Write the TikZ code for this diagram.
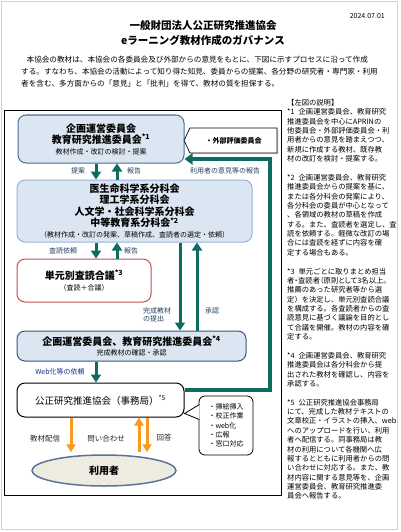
\documentclass[tikz,border=0pt]{standalone}
\usepackage{fontspec}
\setmainfont{Noto Sans CJK JP}
\usepackage{tikz}
\usetikzlibrary{arrows.meta,positioning,shapes.geometric,shapes.symbols,shadows}
\definecolor{tealx}{HTML}{0E6B60}
\definecolor{navyx}{HTML}{243F60}
\definecolor{boxbg}{HTML}{DCE6F2}
\definecolor{boxln}{HTML}{4A6C99}
\definecolor{boxlt}{HTML}{95B3D7}
\definecolor{redx}{HTML}{C0504D}
\definecolor{orangex}{HTML}{F79A1E}
\definecolor{userbg}{HTML}{EEECE1}
\definecolor{userln}{HTML}{5B7397}
\tikzset{
  ar/.style={-{Triangle[length=8pt,width=10pt]},line width=3pt,tealx},
  oar/.style={-{Triangle[length=8pt,width=9pt]},line width=3pt,orangex},
  loopar/.style={-{Triangle[length=8pt,width=11pt]},line width=3.5pt,tealx},
  box/.style={draw=boxln,line width=1pt,rounded corners=8pt,fill=boxbg,align=center,inner sep=0pt,
    font=\bfseries\fontsize{10}{11.5}\selectfont},
  wbox/.style={box,fill=white},
  lbl/.style={font=\fontsize{7}{8.5}\selectfont,navyx,inner sep=0pt},
  olbl/.style={font=\fontsize{7.5}{9}\selectfont,black!85,inner sep=0pt},
  small/.style={font=\fontsize{7}{8}\selectfont}
}
\newcommand{\subline}[1]{{\mdseries\fontsize{7}{8}\selectfont #1}}
\newcommand{\narrow}[1]{{\addfontfeature{RawFeature=+palt}#1}}

\begin{document}
\begin{tikzpicture}[x=1pt,y=-1pt]
\useasboundingbox (0,0) rectangle (400,532);
\draw[gray!35,line width=1pt] (1.5,1.5) rectangle (397.5,529.5);

% header
\node[anchor=east,small,inner sep=0pt] (date) at (385,16) {2024.07.01};
\node[align=center,font=\bfseries\fontsize{10.5}{15}\selectfont,inner sep=0pt] (title) at (203,33.5)
  {一般財団法人公正研究推進協会\\eラーニング教材作成のガバナンス};
\node[anchor=north west,align=left,font=\fontsize{7.6}{11.7}\selectfont,inner sep=0pt] (intro) at (21,56)
  {\hspace*{5.5pt}本協会の教材は、本協会の各委員会及び外部からの意見をもとに、下図に示すプロセスに沿って作成\\
   する。すなわち、本協会の活動によって知り得た知見、委員からの提案、各分野の研究者・専門家・利用\\
   者を含む、多方面からの「意見」と「批判」を得て、教材の質を担保する。};

% frame
\draw[line width=0.8pt] (4.5,110) rectangle (281,495);

% boxes
\node[box,minimum width=166pt,minimum height=48pt] (kikaku) at (101,139)
  {企画運営委員会\\教育研究推進委員会\textsuperscript{*1}\\[-1pt]\subline{教材作成・改訂の検討・提案}};
\node[box,draw=boxlt,minimum width=235pt,minimum height=62pt] (bunka) at (134.5,211)
  {医生命科学系分科会\\理工学系分科会\\人文学・社会科学系分科会\\中等教育系分科会\textsuperscript{*2}\\[-1pt]
   \subline{（教材作成・改訂の発案、草稿作成、査読者の選定・依頼）}};
\node[wbox,draw=redx,minimum width=134pt,minimum height=43pt] (sadoku) at (84,280.5)
  {単元別査読合議\textsuperscript{*3}\\[-1pt]\subline{（査読＋合議）}};
\node[box,draw=boxln!80!black,minimum width=229pt,minimum height=30pt] (shonin) at (131.5,346)
  {企画運営委員会、教育研究推進委員会\textsuperscript{*4}\\[-2pt]\subline{完成教材の確認・承認}};
\node[wbox,draw=black,font=\fontsize{9.5}{11}\selectfont,minimum width=167pt,minimum height=34pt] (jimu) at (100.5,400)
  {公正研究推進協会（事務局）\textsuperscript{*5}};
\node[ellipse,draw=userln,line width=1.5pt,fill=userbg,minimum width=144pt,minimum height=31pt,inner sep=0pt,
  font=\bfseries\fontsize{10}{12}\selectfont] (riyou) at (104,470.5) {利用者};

% external committee
\node[signal,signal to=west,signal pointer angle=130,draw,fill=white,line width=0.7pt,
  drop shadow={shadow xshift=1.2pt,shadow yshift=-1.2pt,fill=gray!60},
  minimum width=93pt,minimum height=25pt,inner sep=0pt,font=\bfseries\fontsize{7}{8}\selectfont] (gaibu) at (233.5,140.5)
  {・外部評価委員会};

% office tasks
\node[draw,line width=0.8pt,fill=white,rounded corners=6pt,minimum width=54pt,minimum height=59pt,inner sep=0pt,
  align=left,font=\fontsize{7}{9.3}\selectfont] (sagyo) at (226,425.5)
  {・挿絵挿入\\・校正作業\\・web化\\・広報\\・窓口対応};
\coordinate (tip) at ([yshift=4pt]jimu.south east);
\path[fill=white,draw=black,line width=0.8pt] ([xshift=0.8pt,yshift=21pt]sagyo.west) -- (tip) -- ([xshift=0.8pt,yshift=6pt]sagyo.west);

% arrow columns
\coordinate (xa) at (96,0);
\coordinate (xb) at (117,0);
\coordinate (xc) at (180,0);
\coordinate (xd) at (197,0);
\coordinate (xe) at (71,0);
\coordinate (xf) at (139,0);
\coordinate (xg) at (147,0);
\coordinate (loop) at (270,300);

\draw[ar] (xa |- kikaku.south) -- (xa |- bunka.north);
\draw[ar] (xb |- bunka.north) -- (xb |- kikaku.south);
\node[lbl] (teian) at (78,171) {提案};
\node[lbl] (hokoku1) at (134,171) {報告};

\draw[ar] (xa |- bunka.south) -- (xa |- sadoku.north);
\draw[ar] (xb |- sadoku.north) -- (xb |- bunka.south);
\node[lbl] (irai) at (63,251) {査読依頼};
\node[lbl] (hokoku2) at (131,251) {報告};

\draw[ar] (xc |- bunka.south) -- (xc |- shonin.north);
\draw[ar] (xd |- shonin.north) -- (xd |- bunka.south);
\node[lbl,anchor=west,align=left,font=\fontsize{7}{8.5}\selectfont] (teishutsu) at (143,315) {完成教材\\の提出};
\node[lbl] (shounin) at (212,311) {承認};

\draw[ar] (xa |- shonin.south) -- (xa |- jimu.north);
\node[lbl,navyx!70!blue] (web) at (60,372) {Web化等の依頼};

\draw[loopar] ([yshift=10pt]jimu.east) -| (loop) |- ([yshift=-20pt]kikaku.east);
\node[lbl] (iken) at (225,171) {利用者の意見等の報告};

\draw[oar,shorten >=2pt] (xe |- jimu.south) -- (xe |- riyou.north);
\draw[oar,shorten <=2pt] (xf |- riyou.north) -- (xf |- jimu.south);
\draw[oar,shorten >=2pt] (xg |- jimu.south) -- (xg |- riyou.north);
\node[olbl] (haishin) at (45,439) {教材配信};
\node[olbl] (toiawase) at (106,439) {問い合わせ};
\node[olbl] (kaitou) at (164,438) {回答};

% notes
\node[anchor=north west,align=left,font=\fontsize{7.3}{9.37}\selectfont,inner sep=0pt] (note) at (287,99)
  {【左図の説明】\\
   *1\hspace{4pt}企画運営委員会、教育研究\\
   推進委員会を中心にAPRINの\\
   他委員会・外部評価委員会・利\\
   用者からの意見を踏まえつつ、\\
   新規に作成する教材、既存教\\
   材の改訂を検討・提案する。\\[9.37pt]
   *2\hspace{4pt}企画運営委員会、教育研究\\
   推進委員会からの提案を基に、\\
   または各分科会の発案により、\\
   各分科会の委員が中心となって\\
   、各領域の教材の草稿を作成\\
   する。また、査読者を選定し、査\\
   読を依頼する。軽微な改訂の場\\
   合には査読を経ずに内容を確\\
   定する場合もある。\\[9.37pt]
   *3\hspace{4pt}単元ごとに取りまとめ担当\\
   \narrow{者・査読者（原則として3名以上。}\\
   推薦のあった研究者等から選\\
   定）を決定し、単元別査読合議\\
   を構成する。各査読者からの査\\
   読意見に基づく議論を目的とし\\
   て合議を開催。教材の内容を確\\
   定する。\\[9.37pt]
   *4\hspace{4pt}企画運営委員会、教育研究\\
   推進委員会は各分科会から提\\
   出された教材を確認し、内容を\\
   承認する。\\[9.37pt]
   *5\hspace{4pt}公正研究推進協会事務局\\
   にて、完成した教材テキストの\\
   文章校正・イラストの挿入、web\\
   へのアップロードを行い、利用\\
   者へ配信する。同事務局は教\\
   材の利用について各機関へ広\\
   報するとともに利用者からの問\\
   い合わせに対応する。また、教\\
   材内容に関する意見等を、企画\\
   運営委員会、教育研究推進委\\
   員会へ報告する。};
\end{tikzpicture}
\end{document}
